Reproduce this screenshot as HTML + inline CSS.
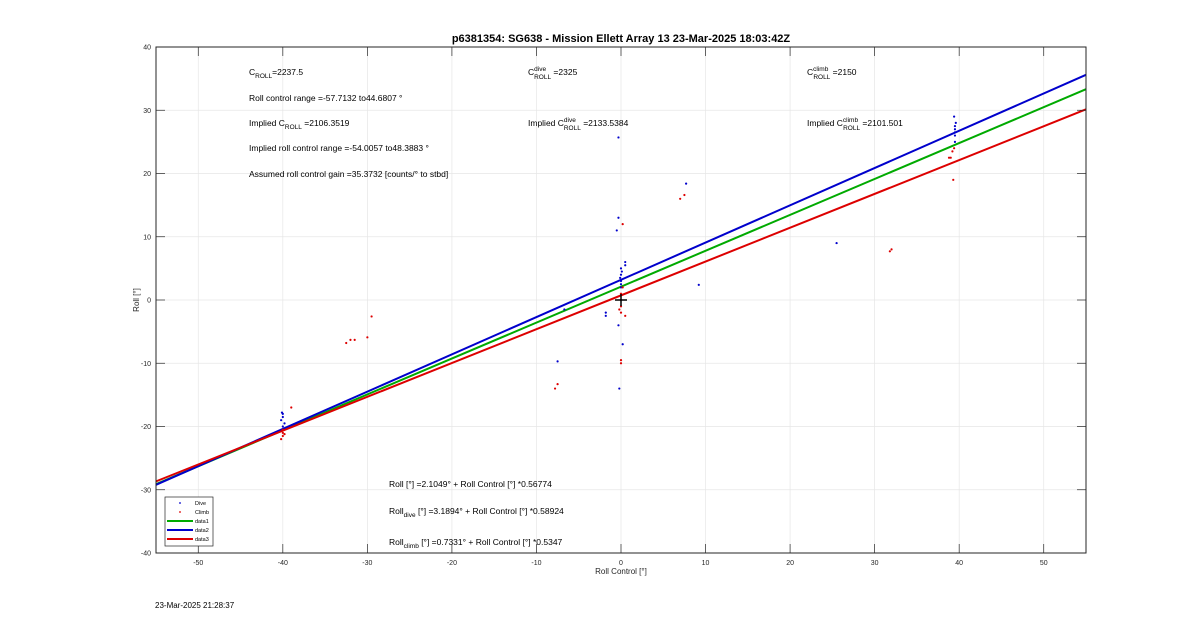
<!DOCTYPE html>
<html><head><meta charset="utf-8"><style>
body{margin:0;background:#fff;font-family:"Liberation Sans",sans-serif}
svg text{font-family:"Liberation Sans",sans-serif}
</style></head><body>
<svg id="chart" width="1200" height="622" viewBox="0 0 1200 622" xmlns="http://www.w3.org/2000/svg">
<rect width="1200" height="622" fill="#fff"/>
<g id="grid"></g>
<g id="fits"></g>
<g id="pts"></g>
<rect x="156" y="47" width="930" height="506" fill="none" stroke="#262626" stroke-width="1"/>
<g id="ticks"></g>
<text x="621" y="42" text-anchor="middle" font-size="11" font-weight="bold" fill="#000">p6381354: SG638 - Mission Ellett Array 13 23-Mar-2025 18:03:42Z</text>
<text x="621" y="574" text-anchor="middle" font-size="8" fill="#262626">Roll Control [°]</text>
<text transform="translate(139,300) rotate(-90)" text-anchor="middle" font-size="8" fill="#262626">Roll [°]</text>
<g font-size="8.5" fill="#000">
<text x="249" y="75">C<tspan font-size="6.5" dy="3">ROLL</tspan><tspan dy="-3">=2237.5</tspan></text>
<text x="249" y="101">Roll control range =-57.7132 to44.6807 °</text>
<text x="249" y="126">Implied C<tspan font-size="6.5" dy="3">ROLL</tspan><tspan dy="-3"> =2106.3519</tspan></text>
<text x="249" y="151">Implied roll control range =-54.0057 to48.3883 °</text>
<text x="249" y="177">Assumed roll control gain =35.3732 [counts/° to stbd]</text>
<text x="528" y="75">C<tspan font-size="6.5" dy="-4">dive</tspan><tspan font-size="6.5" dx="-12" dy="8">ROLL</tspan><tspan dy="-4"> =2325</tspan></text>
<text x="528" y="126">Implied C<tspan font-size="6.5" dy="-4">dive</tspan><tspan font-size="6.5" dx="-12" dy="8">ROLL</tspan><tspan dy="-4"> =2133.5384</tspan></text>
<text x="807" y="75">C<tspan font-size="6.5" dy="-4">climb</tspan><tspan font-size="6.5" dx="-15" dy="8">ROLL</tspan><tspan dy="-4"> =2150</tspan></text>
<text x="807" y="126">Implied C<tspan font-size="6.5" dy="-4">climb</tspan><tspan font-size="6.5" dx="-15" dy="8">ROLL</tspan><tspan dy="-4"> =2101.501</tspan></text>
<text x="389" y="487">Roll [°] =2.1049° + Roll Control [°] *0.56774</text>
<text x="389" y="514">Roll<tspan font-size="6.5" dy="3">dive</tspan><tspan dy="-3"> [°] =3.1894° + Roll Control [°] *0.58924</tspan></text>
<text x="389" y="545">Roll<tspan font-size="6.5" dy="3">climb</tspan><tspan dy="-3"> [°] =0.7331° + Roll Control [°] *0.5347</tspan></text>
</g>
<g>
<rect x="165" y="497" width="48" height="49" fill="#fff" stroke="#262626" stroke-width="0.7"/>
<circle cx="180" cy="503" r="0.9" fill="#0000cc"/><text x="195" y="505" font-size="5.5">Dive</text>
<circle cx="180" cy="512" r="0.9" fill="#dd0000"/><text x="195" y="514" font-size="5.5">Climb</text>
<line x1="167" y1="521" x2="193" y2="521" stroke="#00aa00" stroke-width="2"/><text x="195" y="523" font-size="5.5">data1</text>
<line x1="167" y1="530" x2="193" y2="530" stroke="#0000cc" stroke-width="2"/><text x="195" y="532" font-size="5.5">data2</text>
<line x1="167" y1="539" x2="193" y2="539" stroke="#dd0000" stroke-width="2"/><text x="195" y="541" font-size="5.5">data3</text>
</g>
<text x="155" y="608" font-size="8" fill="#000">23-Mar-2025 21:28:37</text>
</svg>
<script>
const xTicks=[-50,-40,-30,-20,-10,0,10,20,30,40,50];
const yTicks=[-40,-30,-20,-10,0,10,20,30,40];
const fitIntercepts=[2.1049,3.1894,0.7331];
const fitSlopes=[0.56774,0.58924,0.5347];
const fitColors=['#00aa00','#0000cc','#dd0000'];
const diveX=[-40,-40,-40.2,-39.8,-40,-40.1,0,0,0,0,-0.1,0.1,0,-0.3,-0.5,-0.3,-7.5,-1.8,-1.8,-0.3,-0.2,0.2,0.5,0.5,-6.7,9.2,25.5,39.5,39.5,39.5,39.6,39.4,39.5,39.5,7.7];
const diveY=[-18,-18.5,-19,-19.5,-20,-17.8,2,3,4,5,3.5,4.5,2.5,13,11,25.7,-9.7,-2.5,-2,-4,-14,-7,6,5.5,-1.5,2.4,9,25,26,27,28,29,27.5,26.5,18.4];
const climbX=[-40,-40,-40.2,-39.8,-40,-39,-32.5,-32,-31.5,-30,-29.5,-7.5,-7.8,0,0,0,0,0.2,-0.2,0,0,0.2,7,7.5,31.8,32,39,39.2,39.4,39.3,38.8,0.5];
const climbY=[-21,-21.5,-22,-21.2,-20.5,-17,-6.8,-6.3,-6.3,-5.9,-2.6,-13.3,-14,-2,-1,0,1,2,-1.5,-9.5,-10,12,16,16.6,7.7,8,22.5,23.5,24,19,22.5,-2.5];
const X0=156,X1=1086,Y0=47,Y1=553,xmin=-55,xmax=55,ymin=-40,ymax=40;
const sx=v=>X0+(v-xmin)/(xmax-xmin)*(X1-X0);
const sy=v=>Y1-(v-ymin)/(ymax-ymin)*(Y1-Y0);
const NS='http://www.w3.org/2000/svg';
function mk(t,a,p){const e=document.createElementNS(NS,t);for(const k in a)e.setAttribute(k,a[k]);p.appendChild(e);return e;}
const grid=document.getElementById('grid'),ticks=document.getElementById('ticks');
xTicks.forEach(v=>{const x=sx(v);
const g=mk('line',{x1:x,x2:x,y1:Y0,y2:Y1,stroke:'#e6e6e6','stroke-width':0.7},grid);


mk('line',{x1:x,x2:x,y1:Y1,y2:Y1-9,stroke:'#262626','stroke-width':0.7},ticks);
mk('line',{x1:x,x2:x,y1:Y0,y2:Y0+9,stroke:'#262626','stroke-width':0.7},ticks);
const t=mk('text',{x:x,y:Y1+12,'text-anchor':'middle','font-size':7,fill:'#262626'},ticks);
t.textContent=v;

});
yTicks.forEach(v=>{const y=sy(v);
const g=mk('line',{x1:X0,x2:X1,y1:y,y2:y,stroke:'#e6e6e6','stroke-width':0.7},grid);


mk('line',{x1:X0,x2:X0+9,y1:y,y2:y,stroke:'#262626','stroke-width':0.7},ticks);
mk('line',{x1:X1,x2:X1-9,y1:y,y2:y,stroke:'#262626','stroke-width':0.7},ticks);
const t=mk('text',{x:X0-5,y:y+2.5,'text-anchor':'end','font-size':7,fill:'#262626'},ticks);
t.textContent=v;

});
const fits=document.getElementById('fits');
fitIntercepts.forEach((a,i)=>{const b=fitSlopes[i];
const l=mk('line',{x1:sx(xmin),y1:sy(a+b*xmin),x2:sx(xmax),y2:sy(a+b*xmax),stroke:fitColors[i],'stroke-width':2},fits);

});
const pts=document.getElementById('pts');
diveX.forEach((x,i)=>{const c=mk('circle',{cx:sx(x),cy:sy(diveY[i]),r:1.1,fill:'#0000cc'},pts);

});
climbX.forEach((x,i)=>{const c=mk('circle',{cx:sx(x),cy:sy(climbY[i]),r:1.1,fill:'#dd0000'},pts);

});
const cx=sx(0),cy=sy(0);
const c1=mk('path',{d:`M${cx-6},${cy}H${cx+6}M${cx},${cy-6}V${cy+6}`,stroke:'#000','stroke-width':1.5},pts);


</script>
</body></html>
